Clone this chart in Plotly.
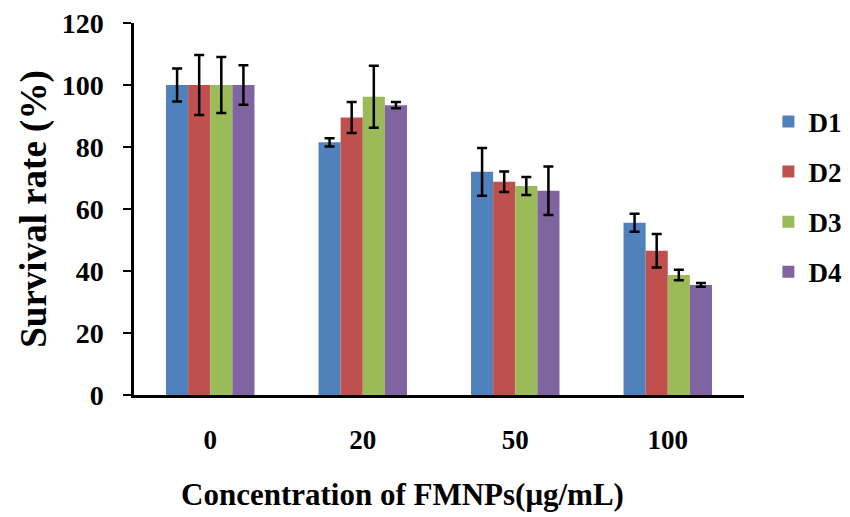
import plotly.graph_objects as go

categories = ["0", "20", "50", "100"]
series_names = ["D1", "D2", "D3", "D4"]
d1 = [100, 81.5, 72.0, 55.6]
d2 = [100, 89.5, 68.8, 46.5]
d3 = [100, 96.2, 67.4, 38.7]
d4 = [100, 93.5, 65.9, 35.5]
d1_err = [5.3, 1.3, 7.7, 2.9]
d2_err = [9.7, 5.0, 3.3, 5.4]
d3_err = [9.0, 10.0, 2.9, 1.7]
d4_err = [6.4, 1.0, 7.8, 0.6]
colors = ["#4F81BD", "#C0504D", "#9BBB59", "#8064A2"]
y_ticks = [0, 20, 40, 60, 80, 100, 120]
x_title = "Concentration of FMNPs(μg/mL)"
y_title = "Survival rate (%)"

FONT = "Liberation Serif, Times New Roman, serif"

fig = go.Figure()
for name, vals, errs, col in zip(series_names, [d1, d2, d3, d4],
                                 [d1_err, d2_err, d3_err, d4_err], colors):
    fig.add_trace(go.Bar(
        x=categories, y=vals, name=name, legendgroup=name,
        marker=dict(color=col, line=dict(width=0)),
        error_y=dict(type="data", array=errs, visible=True,
                     color="black", thickness=2.5, width=5),
    ))

fig.add_annotation(
    text=x_title, xref="paper", yref="paper", x=0.44, y=-0.267,
    xanchor="center", yanchor="middle", showarrow=False,
    font=dict(family=FONT, size=31, weight="bold", color="black"),
)

fig.update_layout(
    width=850, height=517,
    paper_bgcolor="white", plot_bgcolor="white",
    margin=dict(l=126, r=92, t=15, b=130),
    barmode="group", bargap=0.42, bargroupgap=0,
    font=dict(family=FONT, color="black", weight="bold"),
    legend=dict(x=1.04, y=0.80, xanchor="left", yanchor="top",
                font=dict(family=FONT, size=27, weight="bold"),
                tracegroupgap=12, bgcolor="rgba(0,0,0,0)"),
    xaxis=dict(
        showline=True, linecolor="black", linewidth=3,
        ticks="", tickfont=dict(family=FONT, size=27, weight="bold"),
        ticklabelstandoff=19, automargin=False,
    ),
    yaxis=dict(
        range=[0, 120], tickvals=y_ticks,
        showline=True, linecolor="black", linewidth=2.5,
        ticks="outside", ticklen=8, tickwidth=2, tickcolor="black",
        tickfont=dict(family=FONT, size=28, weight="bold"),
        ticklabelstandoff=14, automargin=False, ticklabeloverflow="allow",
        showgrid=False, zeroline=False,
        title=dict(text=y_title,
                   font=dict(family=FONT, size=37, weight="bold"), standoff=4),
    ),
)

fig.write_html("out.html")
